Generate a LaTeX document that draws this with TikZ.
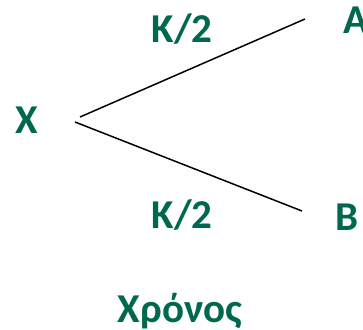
\documentclass[tikz,border=0pt]{standalone}
\usepackage{fontspec}
\setmainfont{Carlito}
\definecolor{lbl}{RGB}{0,104,78}
\begin{document}
\begin{tikzpicture}[x=1pt,y=-1pt,
  lab/.style={font=\fontsize{41}{41}\selectfont\bfseries, text=lbl, inner sep=0pt, anchor=base},
  branch/.style={line width=1.5pt, black}]
\useasboundingbox (0,0) rectangle (363,329);
\node[lab] (X) at (27,133) {X};
\node[lab, anchor=base west] (A) at (343,34) {A};
\node[lab, anchor=base west] (B) at (335,230) {B};
\node[lab] (k1) at (182,42) {K/2};
\node[lab] (k2) at (182,228) {K/2};
\node[lab] (t) at (180,322) {Χρόνος};
\coordinate (xa) at (80,117);
\coordinate (xb) at (75,122);
\coordinate (ae) at (305,19);
\coordinate (be) at (302,211);
\draw[branch] (xa) -- (ae);
\draw[branch] (xb) -- (be);
\end{tikzpicture}
\end{document}
